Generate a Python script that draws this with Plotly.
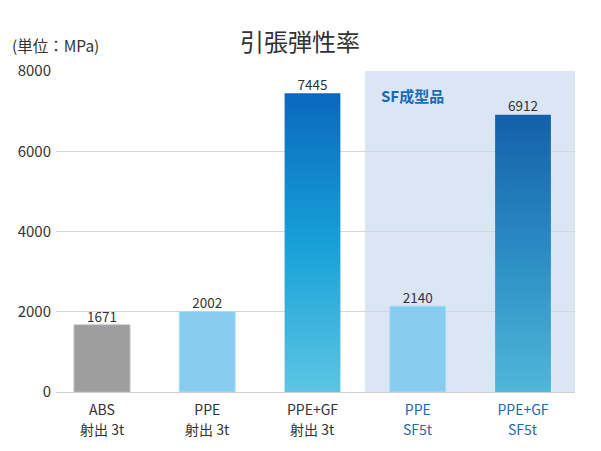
import plotly.graph_objects as go

materials = ["ABS", "PPE", "PPE+GF", "PPE", "PPE+GF"]
methods = ["射出 3t", "射出 3t", "射出 3t", "SF5t", "SF5t"]
values = [1671, 2002, 7445, 2140, 6912]
tick_vals = [0, 2000, 4000, 6000, 8000]
title_text = "引張弾性率"
unit_text = "(単位：MPa)"
sf_label = "SF成型品"

FONT = "Noto Sans CJK JP"
TXT = "#333333"
BLUE = "#1a6ab5"
BAR_W = 0.53

solid_colors = {0: "#9e9e9e", 1: "#86cdf0", 3: "#86cdf0"}
solid_edges = {0: "#b0b0b0", 1: "#a6dcf5", 3: "#a6dcf5"}
gradients = {
    2: [[0, "#5cc6e3"], [0.5, "#17a0d8"], [1, "#0a68bd"]],
    4: [[0, "#4fb7d8"], [0.5, "#2c8cc4"], [1, "#1360a8"]],
}

xs = list(range(len(materials)))
fig = go.Figure()

# solid bars
sx = [i for i in xs if i in solid_colors]
fig.add_trace(go.Bar(
    x=sx, y=[values[i] for i in sx], width=BAR_W,
    marker=dict(color=[solid_colors[i] for i in sx],
                line=dict(color=[solid_edges[i] for i in sx], width=1)),
    hoverinfo="skip", showlegend=False,
))

# gradient bars
for i, cs in gradients.items():
    v = values[i]
    fig.add_trace(go.Scatter(
        x=[i - BAR_W / 2, i + BAR_W / 2, i + BAR_W / 2, i - BAR_W / 2, i - BAR_W / 2],
        y=[0, 0, v, v, 0],
        mode="lines", fill="toself",
        line=dict(width=0),
        fillgradient=dict(type="vertical", colorscale=cs, start=0, stop=v),
        hoverinfo="skip", showlegend=False,
    ))

# value labels
fig.add_trace(go.Scatter(
    x=xs, y=values, mode="text", text=[str(v) for v in values],
    textposition="top center",
    textfont=dict(family=FONT, size=13.5, color=TXT),
    hoverinfo="skip", showlegend=False, cliponaxis=False,
))

ticktext = [m if i < 3 else f"<span style='color:{BLUE}'>{m}</span>" for i, m in enumerate(materials)]

annotations = [
    dict(text=title_text, xref="paper", yref="paper", x=(300 - 56) / (575 - 56), y=1,
         xanchor="center", yanchor="middle", yshift=31, showarrow=False,
         font=dict(family=FONT, size=24, color="#333333")),
    dict(text=unit_text, xref="paper", yref="paper", x=(10 - 56) / (575 - 56), y=1,
         xanchor="left", yanchor="middle", yshift=26, showarrow=False,
         font=dict(family=FONT, size=15.5, color=TXT)),
    dict(text=f"<b>{sf_label}</b>", xref="x", yref="y", x=2.63, y=7380, xanchor="left", yanchor="middle",
         showarrow=False, font=dict(family=FONT, size=15, color=BLUE)),
]
for i, m in enumerate(methods):
    annotations.append(dict(
        text=m, xref="x", yref="paper", x=i, y=0, xanchor="center", yanchor="middle",
        yshift=-36.5, showarrow=False,
        font=dict(family=FONT, size=14, color=BLUE if i >= 3 else TXT)))

fig.update_layout(
    width=601, height=451,
    margin=dict(l=56, r=26, t=71, b=59),
    paper_bgcolor="white", plot_bgcolor="white",
    font=dict(family=FONT, color=TXT),
    xaxis=dict(range=[-0.437, 4.494], tickmode="array", tickvals=xs, ticktext=ticktext,
               showgrid=False, zeroline=False, showline=False, ticks="",
               ticklabelstandoff=8,
               tickfont=dict(family=FONT, size=14, color=TXT), fixedrange=True),
    yaxis=dict(range=[0, 8000], tickmode="array", tickvals=tick_vals,
               showgrid=True, gridcolor="#d6d6d6", gridwidth=1,
               zeroline=True, zerolinecolor="#cfcfcf", zerolinewidth=1,
               showline=False, ticks="", ticklabelstandoff=4,
               tickfont=dict(family=FONT, size=15, color=TXT), fixedrange=True),
    shapes=[dict(type="rect", xref="x", yref="y", x0=2.5, x1=4.494, y0=0, y1=8000,
                 fillcolor="#dae6f3", line=dict(width=0), layer="below")],
    annotations=annotations,
)

fig.write_html("out.html")
